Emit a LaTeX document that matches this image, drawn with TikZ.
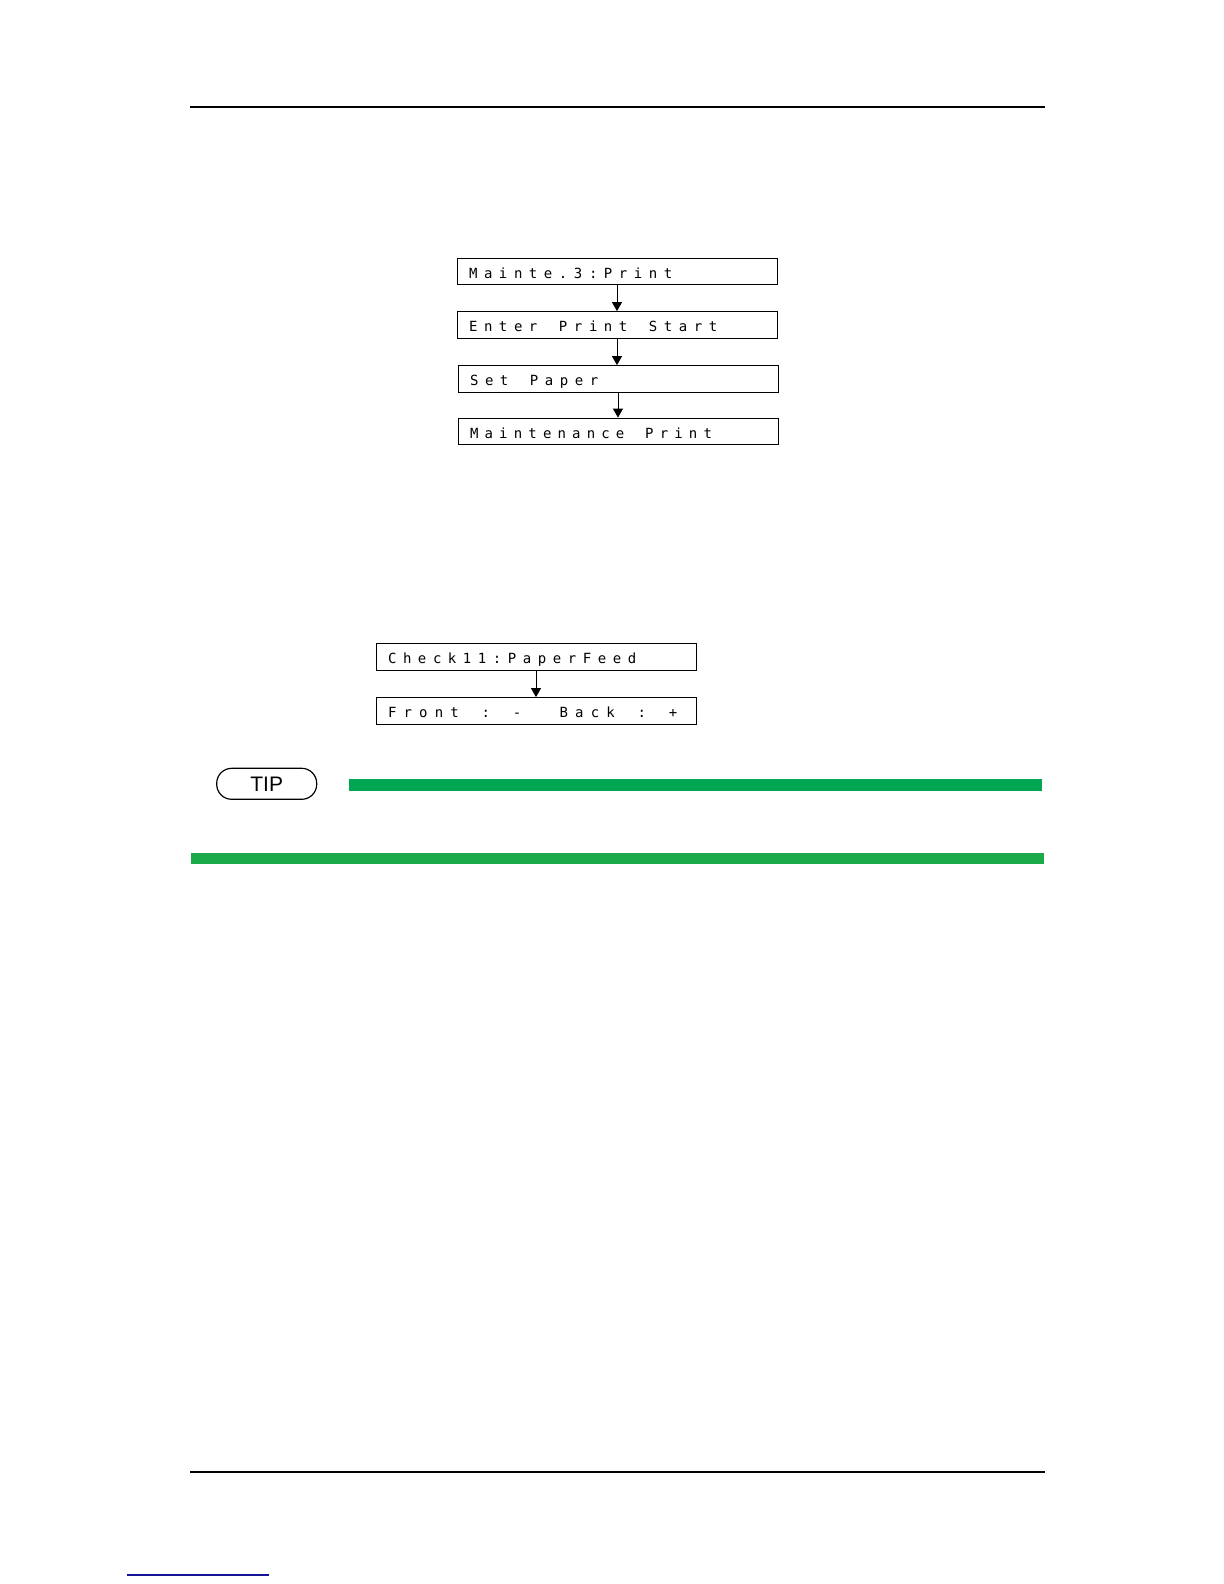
\documentclass[tikz,border=0pt]{standalone}
\usepackage{fontspec}
\usepackage{tikz}
\usetikzlibrary{arrows.meta}
\setmainfont{Liberation Sans}
\newfontfamily\lcdfont{DejaVu Sans Mono}
\definecolor{tipgreen}{RGB}{0,166,81}
\definecolor{bargreen}{RGB}{26,170,74}
\definecolor{linkblue}{RGB}{20,20,150}
% one fixed cell per character, ~ for a blank cell
\newcommand\lcdtext[2][7.5pt]{\def\lcdpitch{#1}\lcdloop#2\relax}
\def\lcdloop#1{\ifx\relax#1\else\makebox[\lcdpitch][l]{#1}\expandafter\lcdloop\fi}

\begin{document}
\begin{tikzpicture}[x=0.5pt, y=-0.5pt,
	lcd/.style={draw, line width=0.5pt, text width=148pt, inner xsep=6pt, inner ysep=0pt, minimum height=13.4pt, text height=6.7pt, text depth=0pt, align=left, font=\fontsize{7}{8}\lcdfont},
	tipbox/.style={draw, line width=0.6pt, rounded corners=7.5pt, minimum width=50pt, minimum height=15.5pt, inner sep=0, font=\fontsize{10.5}{12}\selectfont},
	arr/.style={line width=0.5pt, -{Triangle[length=4.5pt,width=5pt]}}
]
\useasboundingbox (0,0) rectangle (1224,1584);
%page rules
\draw[line width=1pt] (190,107) -- (1045,107);
\draw[line width=1pt] (190,1472) -- (1045,1472);

\node[lcd] (m1) at (617,271.5) {\lcdtext{Mainte.3:Print}};
\node[lcd] (m2) at (617,325) {\lcdtext{Enter~Print~Start}};
\node[lcd] (m3) at (618,379) {\lcdtext{Set~Paper}};
\node[lcd] (m4) at (618,431.5) {\lcdtext[7.3pt]{Maintenance~Print}};
\draw[arr] (m1.south) -- (m1.south |- m2.north);
\draw[arr] (m2.south) -- (m2.south |- m3.north);
\draw[arr] (m3.south) -- (m3.south |- m4.north);

\node[lcd] (k1) at (536,657) {\lcdtext{Check11:PaperFeed}};
\node[lcd] (k2) at (536,711) {\lcdtext[7.8pt]{Front~:~-~~Back~:~+}};
\draw[arr] (k1.south) -- (k1.south |- k2.north);

%tip
\node[tipbox] (tip) at (266.7,783.8) {TIP};
\fill[tipgreen] (349,779) rectangle (1042,791);
\fill[bargreen] (191,853) rectangle (1044,864);

\draw[linkblue, line width=0.6pt] (127,1575) -- (269,1575);
\end{tikzpicture}
\end{document}
